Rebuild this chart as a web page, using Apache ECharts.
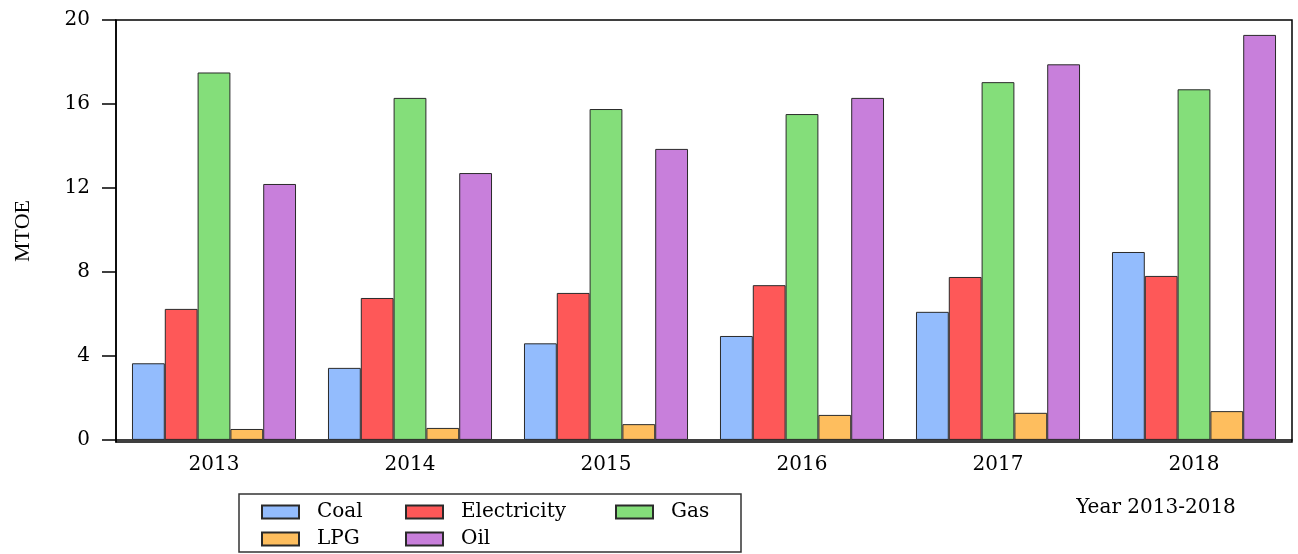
<!DOCTYPE html>
<html>
<head>
<meta charset="utf-8">
<script src="https://cdn.jsdelivr.net/npm/echarts@6/dist/echarts.min.js"></script>
<style>html,body{margin:0;padding:0;background:#fff}#c{width:1298px;height:554px}</style>
</head>
<body>
<div id="c"></div>
<script>
var years = ['2013', '2014', '2015', '2016', '2017', '2018'];
var coal = [3.65, 3.43, 4.60, 4.95, 6.10, 8.95];
var electricity = [6.24, 6.76, 7.00, 7.37, 7.76, 7.81];
var gas = [17.50, 16.29, 15.76, 15.52, 17.04, 16.70];
var lpg = [0.52, 0.57, 0.75, 1.19, 1.29, 1.37];
var oil = [12.19, 12.71, 13.86, 16.29, 17.89, 19.29];
var yTicks = [0, 4, 8, 12, 16, 20];

var FONT = 'DejaVu Serif';
var chart = echarts.init(document.getElementById('c'));
function bar(name, data, color) {
  return {
    name: name, type: 'bar', data: data,
    barGap: '0%', barCategoryGap: '16.3%',
    itemStyle: { color: color, borderColor: '#2a2a2a', borderWidth: 1 },
    emphasis: { disabled: true }
  };
}
function leg(name, left, top) {
  return {
    orient: 'horizontal', icon: 'rect', itemWidth: 37, itemHeight: 13,
    left: left, top: top, padding: 0, selectedMode: false, data: [name],
    textStyle: { fontFamily: FONT, fontSize: 20, color: '#000', padding: [0, 0, 0, 13] }
  };
}
chart.setOption({
  animation: false,
  backgroundColor: '#fff',
  grid: { left: 116, right: 6, top: 20, bottom: 112, outerBoundsMode: 'none', containLabel: false,
          show: true, borderColor: '#000', borderWidth: 1.5, backgroundColor: 'transparent' },
  xAxis: {
    type: 'category', data: years,
    axisLine: { lineStyle: { color: '#000', width: 1.5 } },
    axisTick: { length: 9, lineStyle: { color: '#000', width: 1.5 } },
    axisLabel: { margin: 13, fontFamily: FONT, fontSize: 20, color: '#000' }
  },
  yAxis: {
    type: 'value', min: -0.1, max: 20,
    name: 'MTOE', nameLocation: 'middle', nameRotate: 90, nameGap: 82,
    nameTextStyle: { fontFamily: 'Liberation Serif', fontSize: 22, color: '#000' },
    axisLine: { show: true, lineStyle: { color: '#000', width: 1.5 } },
    axisTick: { show: true, inside: false, length: 14, customValues: yTicks, lineStyle: { color: '#000', width: 1.5 } },
    axisLabel: { margin: 26, customValues: yTicks, fontFamily: FONT, fontSize: 20, color: '#000' },
    splitLine: { show: false }
  },
  legend: [
    leg('Coal', 261, 502),
    leg('Electricity', 405, 502),
    leg('Gas', 615, 502),
    leg('LPG', 261, 529),
    leg('Oil', 405, 529)
  ],
  graphic: [
    { type: 'rect', shape: { x: 239, y: 494, width: 502, height: 58 }, style: { fill: 'none', stroke: '#333', lineWidth: 1.5 }, silent: true },
    { type: 'text', x: 1156, y: 508, style: { text: 'Year 2013-2018', fontFamily: FONT, fontSize: 20, fill: '#000', align: 'center', verticalAlign: 'middle' }, silent: true }
  ],
  series: [
    bar('Coal', coal, '#93BCFD'),
    bar('Electricity', electricity, '#FE5858'),
    bar('Gas', gas, '#84DE7A'),
    bar('LPG', lpg, '#FEBE5E'),
    bar('Oil', oil, '#C87FDB')
  ]
});
</script>
</body>
</html>
